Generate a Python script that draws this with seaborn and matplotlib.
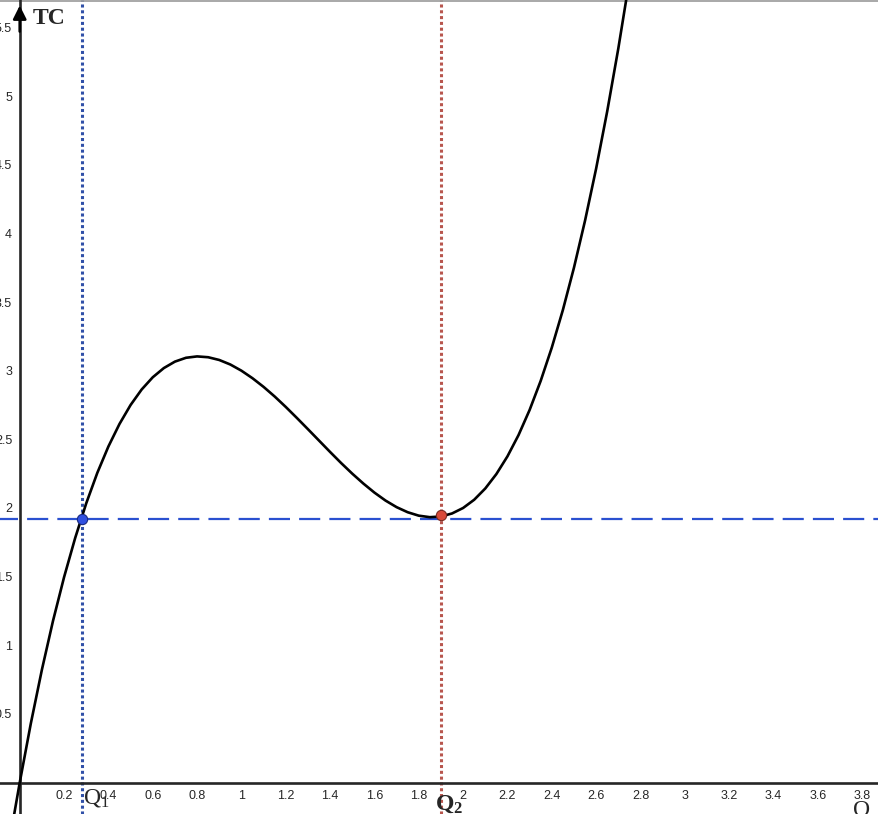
import matplotlib
matplotlib.use('Agg')
import matplotlib.pyplot as plt
import seaborn as sns
import numpy as np

# Curva de custo total
q = [-0.03, 0.0, 0.05, 0.1, 0.15, 0.2, 0.25, 0.3, 0.35, 0.4, 0.45, 0.5, 0.55, 0.6, 0.65,
     0.7, 0.75, 0.8, 0.85, 0.9, 0.95, 1.0, 1.05, 1.1, 1.15, 1.2, 1.25, 1.3, 1.35, 1.4,
     1.45, 1.5, 1.55, 1.6, 1.65, 1.7, 1.75, 1.8, 1.85, 1.9, 1.95, 2.0, 2.05, 2.1, 2.15,
     2.2, 2.25, 2.3, 2.35, 2.4, 2.45, 2.5, 2.55, 2.6, 2.65, 2.7, 2.75]
tc = [-0.277, 0.0, 0.430, 0.822, 1.177, 1.496, 1.781, 2.034, 2.256, 2.448, 2.612, 2.750, 2.863, 2.952, 3.019,
      3.066, 3.094, 3.104, 3.098, 3.078, 3.045, 3.000, 2.945, 2.882, 2.812, 2.736, 2.656, 2.574, 2.491, 2.408,
      2.327, 2.250, 2.178, 2.112, 2.054, 2.006, 1.969, 1.944, 1.933, 1.938, 1.960, 2.000, 2.060, 2.142, 2.247,
      2.376, 2.531, 2.714, 2.926, 3.168, 3.442, 3.750, 4.093, 4.472, 4.889, 5.346, 5.844]

# Pontos Q1 e Q2 e nível horizontal
q1, q2 = 0.282, 1.902
nivel = 1.92
tc_q2 = 1.948

x_ticks = [0.2, 0.4, 0.6, 0.8, 1.0, 1.2, 1.4, 1.6, 1.8, 2.0, 2.2, 2.4, 2.6, 2.8, 3.0, 3.2, 3.4, 3.6, 3.8]
y_ticks = [0.5, 1.0, 1.5, 2.0, 2.5, 3.0, 3.5, 4.0, 4.5, 5.0, 5.5]

sns.set_style('white')
plt.rcParams['mathtext.fontset'] = 'custom'
plt.rcParams['mathtext.rm'] = 'Liberation Serif'
plt.rcParams['mathtext.bf'] = 'Liberation Serif:bold'

fig = plt.figure(figsize=(8.79, 8.14), dpi=100)
ax = fig.add_axes([0, 0, 1, 1])
ax.set_xlim(-0.089, 3.876)
ax.set_ylim(-0.229, 5.70)

# Linhas de referência
ax.axhline(nivel, color='#2a50d0', lw=1.6, linestyle=(1.4, (9.5, 4.1)), zorder=2)
ax.axvline(q1, color='#3050a8', lw=2.2, linestyle=(0, (1, 0.9)), zorder=2)
ax.axvline(q2, color='#b8564e', lw=2.2, linestyle=(0, (1, 0.9)), zorder=2)

# Curva
sns.lineplot(x=q, y=tc, color='black', lw=1.9, sort=False, ax=ax, zorder=3)

# Pontos
sns.scatterplot(x=[q1], y=[nivel], color='#3050e0', edgecolor='#1a2a80', s=55, linewidth=0.8, ax=ax, zorder=4)
sns.scatterplot(x=[q2], y=[tc_q2], color='#d84a38', edgecolor='#7a2a20', s=55, linewidth=0.8, ax=ax, zorder=4)

# Eixos no zero
for s in ['top', 'right']:
    ax.spines[s].set_visible(False)
ax.spines['left'].set_position(('data', 0))
ax.spines['bottom'].set_position(('data', 0))
ax.spines['left'].set_linewidth(1.9)
ax.spines['bottom'].set_linewidth(1.9)
ax.set_xticks(x_ticks)
ax.set_xticklabels([f'{v:g}' for v in x_ticks])
ax.set_yticks(y_ticks)
ax.set_yticklabels([f'{v:g}' for v in y_ticks])
ax.tick_params(direction='inout', length=9, width=1, pad=1, labelsize=9)
for lab in ax.get_xticklabels() + ax.get_yticklabels():
    lab.set_fontfamily('Liberation Sans')

# Seta do eixo vertical
ax.annotate('', xy=(0, 5.68), xytext=(0, 5.45),
            arrowprops=dict(arrowstyle='-|>', color='black', lw=1.9, mutation_scale=20))

# Borda superior cinza
ax.plot([0, 1], [0.999, 0.999], transform=ax.transAxes, color='#999999', lw=1.2, clip_on=False)

# Rótulos
ax.text(0.060, 5.64, 'TC', fontsize=17, fontweight='bold', family='Liberation Serif', va='top', ha='left')
ax.text(0.285, -0.015, r'$\mathrm{Q_1}$', fontsize=17, va='top', ha='left')
ax.text(1.873, -0.065, r'$\mathbf{Q_2}$', fontsize=17, va='top', ha='left')
ax.text(3.759, -0.125, 'Q', fontsize=17, family='Liberation Serif', va='top', ha='left')

plt.savefig('out.png', dpi=100)
